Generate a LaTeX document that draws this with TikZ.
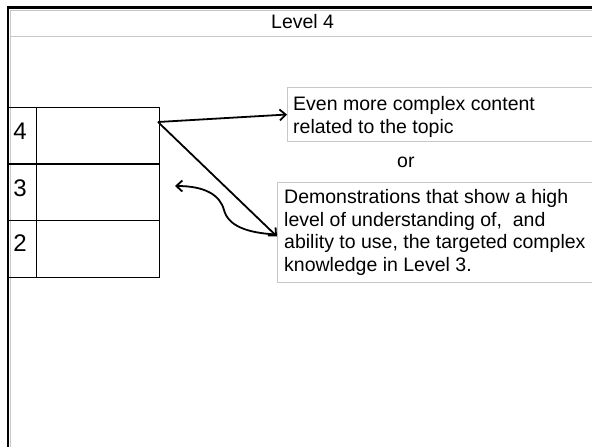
\documentclass[tikz,border=0pt]{standalone}
\usepackage{fontspec}
\setmainfont{Liberation Sans}
\usetikzlibrary{arrows.meta,calc}
\definecolor{rule}{HTML}{C8C8C8}
\begin{document}
\begin{tikzpicture}[x=1pt,y=-1pt,
  panel/.style={draw=rule, line width=1pt, rectangle, inner sep=0pt, anchor=north west},
  body/.style={font=\fontsize{19.5}{22.8}\selectfont, align=left, inner sep=0pt, anchor=base west},
  cell/.style={draw=black, line width=0.9pt, rectangle, inner sep=0pt, anchor=north west},
  digit/.style={font=\fontsize{24}{28}\selectfont, inner sep=0pt},
  link/.style={line width=1.8pt, -{Straight Barb[length=6pt,width=11pt,line width=1.8pt]}}]
\useasboundingbox (0,0) rectangle (592,447);
\fill[white] (0,0) rectangle (592,447);

% outer frame with its title band
\draw[rule, line width=1pt] (10,447) -- (10,10) -- (592,10);
\draw[line width=2.8pt] (8,447) -- (8,7.5) -- (592,7.5);
\draw[rule, line width=1pt] (10,36) -- (592,36);
\node[body] (title) at (271,28) {Level 4};

% level table
\node[cell, minimum width=151, minimum height=57] (row4) at (8,107) {};
\node[cell, minimum width=151, minimum height=56] (row3) at (8,164) {};
\node[cell, minimum width=151, minimum height=57] (row2) at (8,220) {};
\draw[line width=0.9pt] (36,107) -- (36,277);
\draw[line width=2.6pt] (row3.north west) -- (row3.north east);
\node[digit] (n4) at (20,131) {4};
\node[digit] (n3) at (20,188) {3};
\node[digit] (n2) at (20,243) {2};

% description panels (multi-line text is placed by its last baseline)
\node[panel, minimum width=330, minimum height=54] (more) at (287,87) {};
\node[body] (moretext) at (293,133) {Even more complex content\\related to the topic};
\node[body] (or) at (397,167) {or};
\node[panel, minimum width=340, minimum height=100] (demo) at (277,182) {};
\node[body] (demotext) at (284,271.7) {Demonstrations that show a high\\level of understanding of,\ \ and\\ability to use, the targeted complex\\knowledge in Level 3.};

% connectors
\coordinate (src) at (158,122);
\coordinate (back) at (175,186);
\draw[link] (src) -- (more.west);
\draw[link] (src) -- ($(demo.west)+(0,4)$);
\draw[link] ($(demo.west)+(0,2)$) .. controls (245,233) and (228,225) .. (224,210)
  .. controls (220,195) and (205,186) .. (back);
\end{tikzpicture}
\end{document}
